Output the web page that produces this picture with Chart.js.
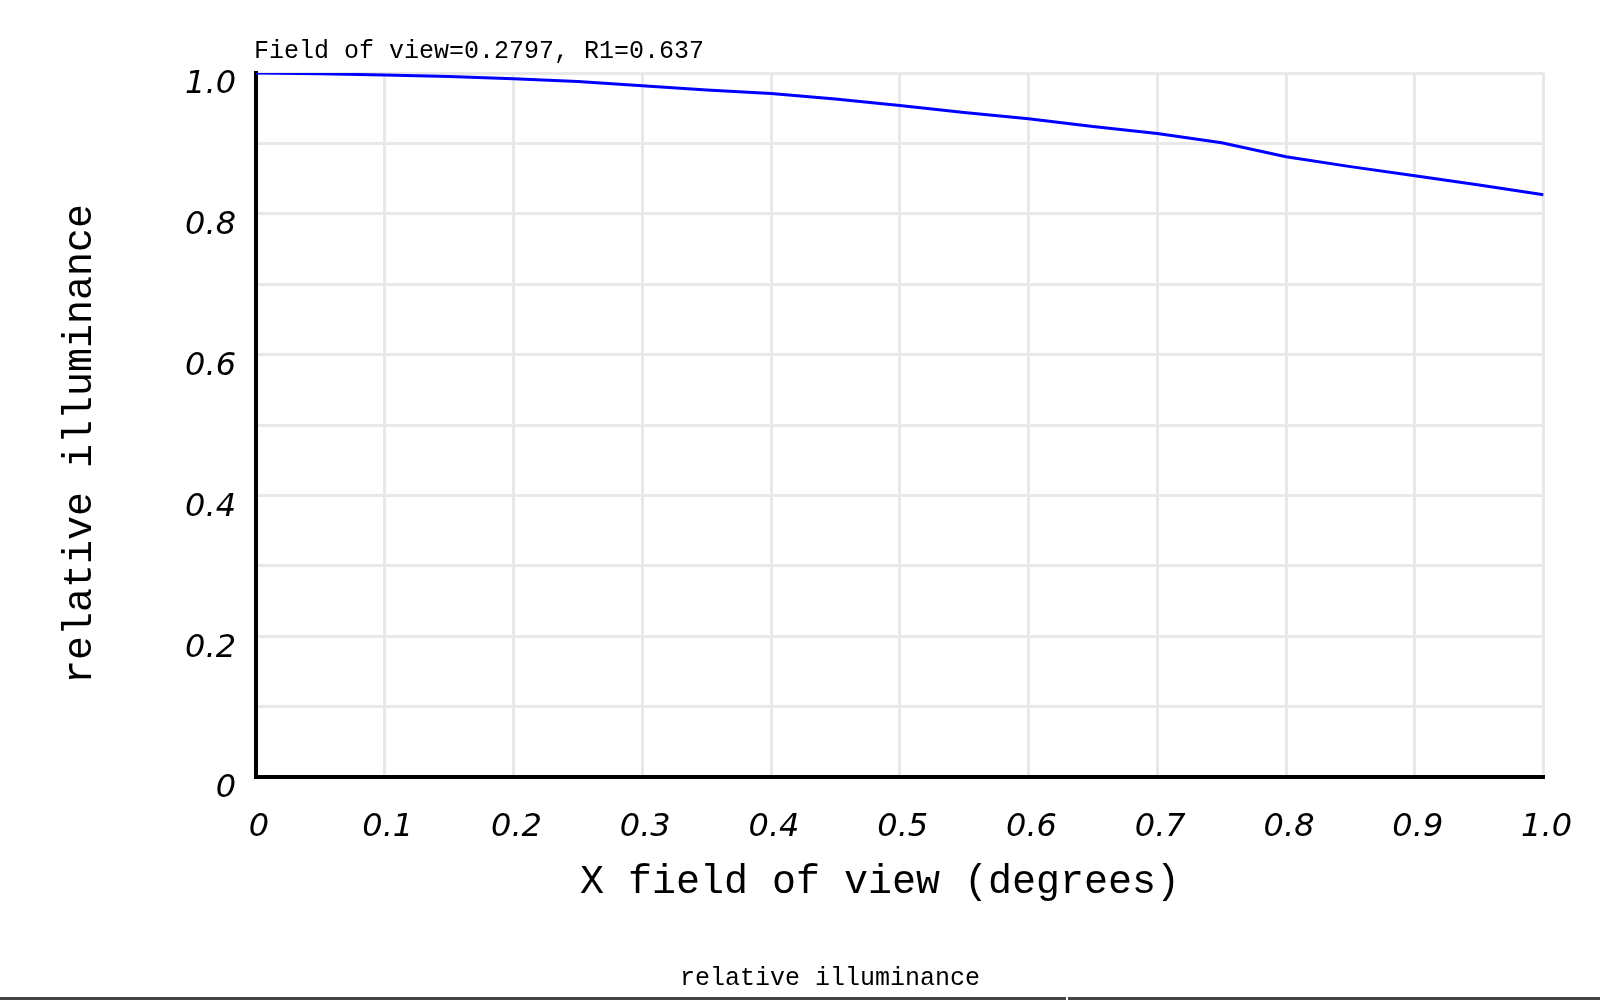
<!DOCTYPE html>
<html>
<head>
<meta charset="utf-8">
<script src="https://cdn.jsdelivr.net/npm/chart.js@4.4.1/dist/chart.umd.min.js"></script>
<style>
  html, body { margin: 0; padding: 0; background: #fff; }
  .wrap { position: relative; width: 1600px; height: 1000px; overflow: hidden; }
  .foot-line { position: absolute; left: 0; top: 997px; width: 1600px; height: 3px; background: #444; }
  .foot-tick { position: absolute; left: 1066px; top: 997px; width: 2px; height: 3px; background: #fff; }
</style>
</head>
<body>
<div class="wrap">
  <canvas id="chart" width="1600" height="1000"></canvas>
  <div class="foot-line"></div>
  <div class="foot-tick"></div>
</div>
<script>
// field angle (deg) against relative illuminance
const fieldX = [0, 0.05, 0.1, 0.15, 0.2, 0.25, 0.3, 0.35, 0.4, 0.45, 0.5,
  0.55, 0.6, 0.65, 0.7, 0.75, 0.8, 0.85, 0.9, 0.95, 1.0]
const illum = [1.000, 0.999, 0.997, 0.995, 0.992, 0.988, 0.982, 0.976, 0.971, 0.963, 0.954,
  0.944, 0.935, 0.924, 0.914, 0.901, 0.881, 0.867, 0.854, 0.841, 0.827]

const noteText = 'Field of view=0.2797, R1=0.637'
const footText = 'relative illuminance'
const xTitle = 'X field of view (degrees)'
const yTitle = 'relative illuminance'

const titleFont = '"Liberation Mono", "DejaVu Sans Mono", monospace'
const tickFont = { family: '"Comic Sans MS", "DejaVu Sans", sans-serif', size: 32, style: 'italic' }
const gridColor = '#e8e8e8'

function fmt(v) {
  const r = Math.round(v * 10)
  if (r === 0) return '0'
  if (r === 10) return '1.0'
  return (r / 10).toFixed(1)
}

// note, axis titles and footer caption (placed off-centre like the original)
const textPlugin = {
  id: 'notes',
  afterDraw(chart) {
    const c = chart.ctx
    c.save()
    c.fillStyle = '#000'
    c.textBaseline = 'middle'
    c.font = '25px ' + titleFont
    c.textAlign = 'left'
    c.fillText(noteText, chart.chartArea.left - 2, 51)

    c.textAlign = 'center'
    c.font = '25px ' + titleFont
    c.fillText(footText, 830, 978)

    c.font = '40px ' + titleFont
    c.fillText(xTitle, 880, 882)

    c.translate(80, 444)
    c.rotate(-Math.PI / 2)
    c.fillText(yTitle, 0, 0)
    c.restore()
  }
}

const ctx = document.getElementById('chart')

new Chart(ctx, {
  type: 'line',
  data: {
    datasets: [{
      data: fieldX.map((x, i) => ({ x: x, y: illum[i] })),
      borderColor: '#0000ff',
      borderWidth: 3,
      pointRadius: 0,
      tension: 0,
      fill: false
    }]
  },
  plugins: [textPlugin],
  options: {
    responsive: false,
    animation: false,
    devicePixelRatio: 1,
    layout: { padding: { top: 73, right: 55, bottom: 0, left: 0 } },
    plugins: {
      legend: { display: false },
      tooltip: { enabled: false }
    },
    scales: {
      x: {
        type: 'linear',
        min: 0,
        max: 1,
        afterFit(scale) { scale.height = 223 },
        grid: { color: gridColor, lineWidth: 3, drawTicks: false },
        border: { color: '#000', width: 4 },
        ticks: {
          stepSize: 0.1,
          autoSkip: false,
          maxRotation: 0,
          padding: 31,
          labelOffset: 3,
          color: '#000',
          font: tickFont,
          callback: v => fmt(v)
        }
      },
      y: {
        min: 0,
        max: 1,
        afterFit(scale) { scale.width = 256 },
        grid: { color: gridColor, lineWidth: 3, drawTicks: false },
        border: { color: '#000', width: 4 },
        ticks: {
          stepSize: 0.1,
          autoSkip: false,
          padding: 20,
          labelOffset: 12,
          color: '#000',
          font: tickFont,
          callback: v => (Math.round(v * 10) % 2 === 0 ? fmt(v) : '')
        }
      }
    }
  }
})
</script>
</body>
</html>
